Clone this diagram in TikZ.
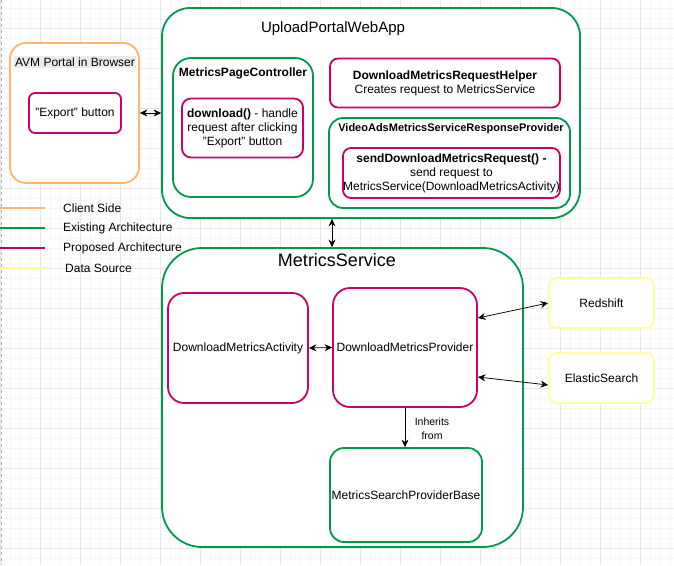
\documentclass[tikz,border=0pt]{standalone}
\usepackage{fontspec}
\setmainfont{Liberation Sans}
\usetikzlibrary{arrows.meta}
\definecolor{cgreen}{HTML}{00994D}
\definecolor{cmag}{HTML}{CC0066}
\definecolor{corange}{HTML}{FFB570}
\definecolor{cyellow}{HTML}{FFFF99}
\definecolor{gridmin}{HTML}{F6F6F6}
\definecolor{gridmaj}{HTML}{E8E8E8}
\definecolor{labelbg}{HTML}{EBEBEB}
\newcommand{\fsz}[1]{\fontsize{#1}{14}\selectfont}
\begin{document}
\begin{tikzpicture}[x=1pt,y=-1pt,
 box/.style={draw, line width=1.8pt, fill=white, inner sep=0pt, align=center, font=\fsz{12}},
 gbox/.style={box, draw=cgreen},
 mbox/.style={box, draw=cmag},
 obox/.style={box, draw=corange},
 ybox/.style={box, draw=cyellow},
 sz/.style n args={3}{minimum width=#1pt, minimum height=#2pt, rounded corners=#3pt},
 txt/.style={inner sep=0pt, align=center, font=\fsz{12}},
 arr/.style={{Stealth[length=7.5pt,width=7pt]}-{Stealth[length=7.5pt,width=7pt]}, line width=0.75pt},
 onearr/.style={-{Stealth[length=7.5pt,width=7pt]}, line width=0.75pt},
 leg/.style={line width=2pt}]
\useasboundingbox (0,0) rectangle (674,565);
\fill[white] (0,0) rectangle (674,565);
% grid
\foreach \x in {0,10,...,670} \draw[gridmin, line width=0.6pt] (\x,0) -- (\x,565);
\foreach \y in {8,18,...,558} \draw[gridmin, line width=0.6pt] (0,\y) -- (674,\y);
\foreach \x in {0,40,...,640} \draw[gridmaj, line width=0.7pt] (\x,0) -- (\x,565);
\foreach \y in {28,68,...,548} \draw[gridmaj, line width=0.7pt] (0,\y) -- (674,\y);
\draw[gray!60, dashed, line width=0.6pt] (1,0) -- (1,565);

% AVM portal
\node[obox, sz={129}{140}{16}] (avm) at (74.5,113) {};
\node[txt, fill=labelbg, inner xsep=1pt, inner ysep=1.5pt] (avmtitle) at (75,62) {AVM Portal in Browser};
\node[mbox, sz={92}{40}{6}] (export) at (75,113) {"Export" button};

% UploadPortalWebApp
\node[gbox, sz={418}{210}{28}] (upload) at (371,113) {};
\node[txt, font=\fsz{15}] (uptitle) at (333,29) {UploadPortalWebApp};
\node[gbox, sz={140}{139}{18}] (mpc) at (243,127.5) {};
\node[txt, font=\bfseries\fsz{12}] (mpctitle) at (243,73) {MetricsPageController};
\node[mbox, sz={121}{59}{9}] (dl) at (242.5,128) {\textbf{download()} - handle\\request after clicking\\"Export" button};
\node[mbox, sz={230}{49}{8}] (helper) at (445,83) {\textbf{DownloadMetricsRequestHelper}\\Creates request to MetricsService};
\node[gbox, sz={241}{90}{14}] (vams) at (449.5,163) {};
\node[txt, font=\bfseries\fsz{11}] (vamstitle) at (451,129) {VideoAdsMetricsServiceResponseProvider};
\node[mbox, sz={217}{50}{8}] (send) at (451.5,173) {\textbf{sendDownloadMetricsRequest() -}\\send request to\\MetricsService(DownloadMetricsActivity)};

% legend
\draw[leg, corange] (0,208) -- (45,208);
\draw[leg, cgreen] (0,228) -- (45,228);
\draw[leg, cmag] (0,248) -- (45,248);
\draw[leg, cyellow] (0,268) -- (45,268);
\node[txt, anchor=west] (lg1) at (63,208) {Client Side};
\node[txt, anchor=west] (lg2) at (63,228) {Existing Architecture};
\node[txt, anchor=west] (lg3) at (63,248) {Proposed Architecture};
\node[txt, anchor=west] (lg4) at (65,268) {Data Source};

% MetricsService
\node[gbox, sz={361}{299}{40}] (metrics) at (342.5,397.5) {};
\node[txt, font=\fsz{18}] (mtitle) at (337,260) {MetricsService};
\node[mbox, sz={140}{110}{16}] (act) at (238,348) {DownloadMetricsActivity};
\node[mbox, sz={144}{119}{17}] (prov) at (405,347.5) {DownloadMetricsProvider};
\node[gbox, sz={152}{94}{14}] (base) at (406,495) {MetricsSearchProviderBase};
\node[ybox, sz={105}{50}{8}] (red) at (601.5,303) {Redshift};
\node[ybox, sz={105}{50}{8}] (elastic) at (601.5,378) {ElasticSearch};

% connectors
\draw[arr] (avm.east) -- (upload.west);
\draw[arr] ([xshift=-39pt]upload.south) -- ([xshift=-10.5pt]metrics.north);
\draw[arr] (act.east) -- (prov.west);
\draw[arr] ([yshift=29.5pt]prov.east) -- (red.west);
\draw[arr] ([yshift=-29.5pt]prov.east) -- ([yshift=-7pt]elastic.west);
\draw[onearr] (prov.south) -- (prov.south |- base.north);
\node[txt, font=\fsz{10.5}] (inh) at (432,429) {Inherits\\from};
\end{tikzpicture}
\end{document}
